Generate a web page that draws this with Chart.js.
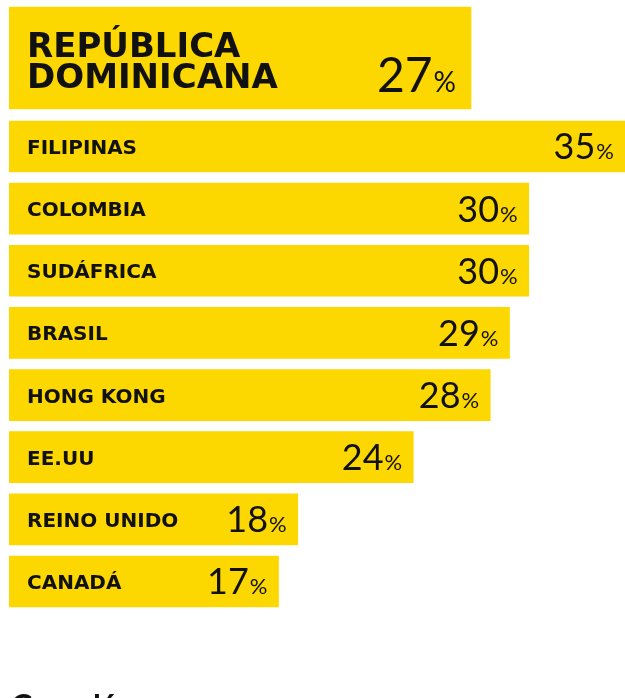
<!DOCTYPE html>
<html>
<head>
<meta charset="utf-8">
<script src="https://cdn.jsdelivr.net/npm/chart.js@4.4.1/dist/chart.umd.min.js"></script>
<style>
  html, body { margin: 0; padding: 0; background: #fff; overflow: hidden; }
  #chart-box { position: relative; width: 625px; height: 698px; overflow: hidden; }
  #next-title { position: absolute; left: 11px; top: 690px; font: 700 32px/32px Lato, sans-serif; color: #111; white-space: nowrap; }
</style>
</head>
<body>
<div id="chart-box">
  <canvas id="chart"></canvas>
  <div id="next-title">Canadá</div>
</div>
<script>
// data
const countries = ['REPÚBLICA DOMINICANA', 'FILIPINAS', 'COLOMBIA', 'SUDÁFRICA', 'BRASIL', 'HONG KONG', 'EE.UU', 'REINO UNIDO', 'CANADÁ']
const shares = [27, 35, 30, 30, 29, 28, 24, 18, 17]
const headerLines = ['REPÚBLICA', 'DOMINICANA']

const YELLOW = '#FCD700'
const INK = '#111111'
const HEADER_OFFSET = 1.424 // header sits this many rows above the first country row
const LABEL_FONT = '"DejaVu Sans"'

// header is the first country, the others are rows 1..n
const headerData = [{ x: shares[0], y: 1 - HEADER_OFFSET }]
const rowData = shares.slice(1).map((v, i) => ({ x: v, y: i + 1 }))

function drawValue(ctx, bar, value, bigFont, smallFont, pad, baseline) {
  // number + small % sign, right aligned inside the bar
  ctx.textAlign = 'right'
  ctx.textBaseline = 'alphabetic'
  ctx.font = smallFont
  const pctW = ctx.measureText('%').width
  const right = bar.x - pad
  ctx.fillText('%', right, baseline)
  ctx.font = bigFont
  ctx.fillText(String(value), right - pctW - 1, baseline)
}

const labelPlugin = {
  id: 'barLabels',
  afterDatasetsDraw(chart) {
    const ctx = chart.ctx
    ctx.save()
    ctx.fillStyle = INK

    // header box
    const head = chart.getDatasetMeta(0).data[0]
    ctx.font = `bold 34px ${LABEL_FONT}`
    ctx.textAlign = 'left'
    ctx.textBaseline = 'alphabetic'
    ctx.fillText(headerLines[0], 27, head.y - 1)
    ctx.fillText(headerLines[1], 27, head.y + 30)
    drawValue(ctx, head, shares[0], '400 48px Lato', '400 28px Lato', 15, head.y + 34)

    // country rows
    chart.getDatasetMeta(1).data.forEach((bar, i) => {
      ctx.font = `bold 20px ${LABEL_FONT}`
      ctx.textAlign = 'left'
      ctx.textBaseline = 'alphabetic'
      ctx.fillText(countries[i + 1], 27, bar.y + 7.5)
      drawValue(ctx, bar, shares[i + 1], '400 36px Lato', '400 22px Lato', 11, bar.y + 13)
    })
    ctx.restore()
  }
}

new Chart(document.getElementById('chart'), {
  type: 'bar',
  data: {
    datasets: [
      { data: headerData, backgroundColor: YELLOW, barThickness: 102, grouped: false },
      { data: rowData, backgroundColor: YELLOW, barThickness: 51, grouped: false }
    ]
  },
  options: {
    indexAxis: 'y',
    responsive: true,
    maintainAspectRatio: false,
    animation: false,
    layout: { padding: { left: 9, right: 0, top: 0, bottom: 0 } },
    scales: {
      x: { type: 'linear', min: 3, max: 35, display: false },
      y: { type: 'linear', min: -1.357, max: 9.875, reverse: true, offset: false, display: false }
    },
    plugins: {
      legend: { display: false },
      tooltip: { enabled: false }
    }
  },
  plugins: [labelPlugin]
})
</script>
</body>
</html>
